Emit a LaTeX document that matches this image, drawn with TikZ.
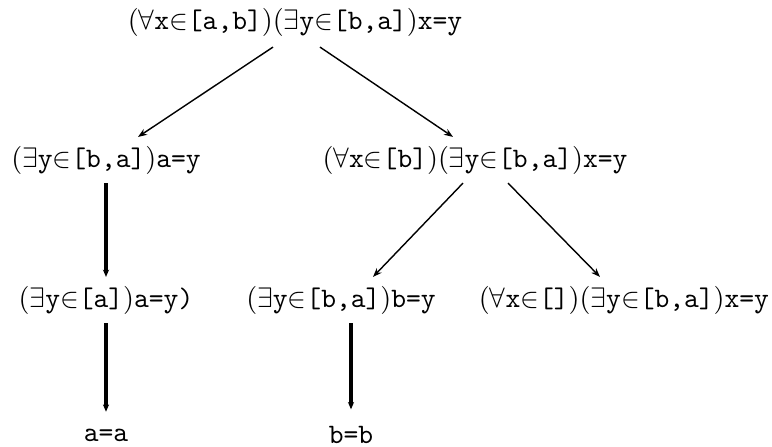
\documentclass[tikz,border=0pt]{standalone}
\usepackage{amsmath,amssymb}
\usepackage{tikz}
\usetikzlibrary{arrows.meta,positioning,calc}
\newcommand{\tx}[1]{\texttt{#1}}

\begin{document}
\begin{tikzpicture}[x=0.01248cm,y=-0.01248cm,>={Stealth[length=3.2pt,width=2.4pt]},
  fm/.style={inner sep=3pt},
  step0/.style={->,line width=0.5pt},
  step1/.style={->,line width=1.2pt,>={Stealth[length=2.6pt,width=2.2pt]}}]
\useasboundingbox (0,0) rectangle (772,447);
% formulas
\node[fm] (top) at (295,22) {$(\forall\tx{x}{\in}\tx{[a,b]})(\exists\tx{y}{\in}\tx{[b,a]})\tx{x=y}$};
\node[fm] (L1) at (106,160) {$(\exists\tx{y}{\in}\tx{[b,a]})\tx{a=y}$};
\node[fm] (R1) at (475,160) {$(\forall\tx{x}{\in}\tx{[b]})(\exists\tx{y}{\in}\tx{[b,a]})\tx{x=y}$};
\node[fm] (L2) at (106,300) {$(\exists\tx{y}{\in}\tx{[a]})\tx{a=y)}$};
\node[fm] (M2) at (341,300) {$(\exists\tx{y}{\in}\tx{[b,a]})\tx{b=y}$};
\node[fm] (R2) at (624,300) {$(\forall\tx{x}{\in}\tx{[]})(\exists\tx{y}{\in}\tx{[b,a]})\tx{x=y}$};
\node[fm] (aa) at (106,435) {\tx{a=a}};
\node[fm] (bb) at (351,435) {\tx{b=b}};
% edges
\draw[step0] ($(top.south)+(-22,2)$) -- ($(L1.north)+(32,0)$);
\draw[step0] ($(top.south)+(25,2)$) -- ($(R1.north)+(-22,0)$);
\draw[step0] ($(R1.south)+(-12,0)$) -- ($(M2.north)+(32,0)$);
\draw[step0] ($(R1.south)+(33,0)$) -- ($(R2.north)+(-24,0)$);
\draw[step1] (L2 |- L1.south) -- (L2.north);
\draw[step1] (L2.south) -- ($(aa.north)+(0,-8)$);
\draw[step1] (bb |- M2.south) -- ($(bb.north)+(0,-8)$);
\end{tikzpicture}
\end{document}
